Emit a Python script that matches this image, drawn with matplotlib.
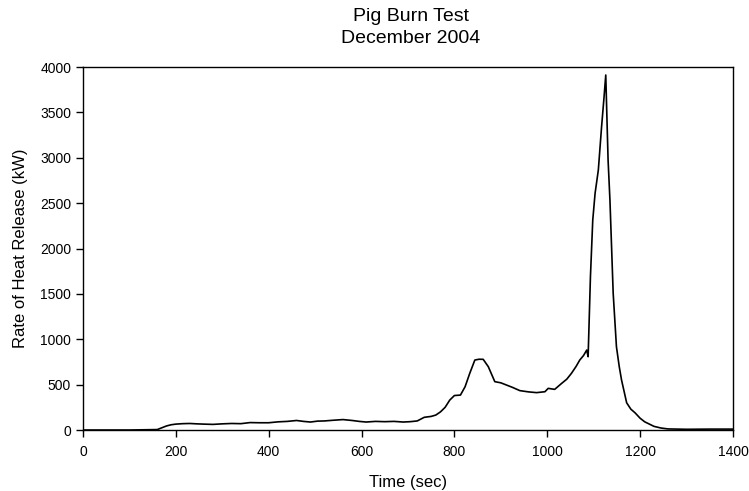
import matplotlib
matplotlib.use("Agg")
import matplotlib.pyplot as plt
import numpy as np

plt.rcParams['font.family'] = ['Liberation Sans', 'DejaVu Sans']

# time (sec) and heat release rate (kW)
time = [0, 100, 160, 170, 180, 190, 200, 215, 230, 245, 260, 280, 300, 320, 340,
        360, 380, 400, 420, 440, 460, 475, 490, 505, 520, 540, 560, 580, 595, 610,
        630, 650, 670, 690, 705, 720, 735, 750, 760, 770, 780, 790, 800, 813, 823,
        833, 844, 853, 862, 873, 887, 900, 912, 925, 941, 960, 977, 995, 1002, 1016,
        1031, 1042, 1052, 1062, 1070, 1078, 1085, 1088, 1093, 1098, 1103, 1110,
        1117, 1122, 1126, 1131, 1135, 1142, 1149, 1155, 1160, 1171, 1180, 1189,
        1200, 1210, 1220, 1230, 1245, 1260, 1300, 1350, 1400]
hrr = [0, 0, 5, 25, 45, 58, 65, 70, 72, 68, 65, 62, 68, 72, 70,
       82, 80, 80, 90, 95, 105, 95, 88, 98, 100, 108, 115, 105, 95, 88,
       95, 92, 95, 88, 92, 100, 140, 150, 165, 200, 250, 330, 380, 385, 477,
       624, 771, 780, 779, 698, 533, 520, 496, 470, 434, 420, 412, 422, 459, 448,
       514, 560, 624, 700, 771, 820, 881, 808, 1690, 2314, 2608, 2865,
       3342, 3650, 3912, 2975, 2534, 1506, 918, 700, 551, 300, 230, 190,
       130, 90, 65, 40, 22, 12, 8, 10, 10]

fig = plt.figure(figsize=(7.49, 4.91), dpi=100)
ax = fig.add_axes([0.1108, 0.1242, 0.8678, 0.7393])

ax.plot(time, hrr, color='black', linewidth=1.2)

ax.set_xlim(0, 1400)
ax.set_ylim(0, 4000)
ax.set_xticks(np.arange(0, 1401, 200))
ax.set_yticks(np.arange(0, 4001, 500))
ax.tick_params(direction='out', length=5, width=1, labelsize=10, colors='black')
ax.tick_params(axis='x', pad=6)
for s in ax.spines.values():
    s.set_linewidth(1)

ax.set_xlabel('Time (sec)', fontsize=12, labelpad=11)
ax.set_ylabel('Rate of Heat Release (kW)', fontsize=12, labelpad=9)

fig.text(0.5487, 0.9578, 'Pig Burn Test', fontsize=14, ha='center', va='baseline')
fig.text(0.5487, 0.9118, 'December 2004', fontsize=14, ha='center', va='baseline')

fig.savefig('out.png', dpi=100)
